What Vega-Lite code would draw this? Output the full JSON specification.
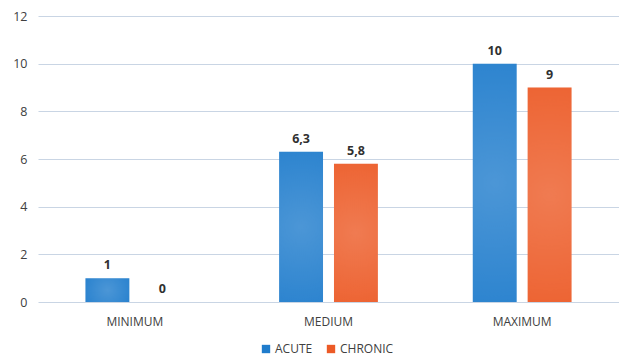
{
  "$schema": "https://vega.github.io/schema/vega-lite/v6.json",
  "width": 581,
  "height": 286,
  "autosize": {"type": "none"},
  "padding": {"left": 38, "top": 16, "right": 0, "bottom": 55},
  "background": "white",
  "config": {
    "view": {"stroke": null},
    "font": "Open Sans",
    "locale": {"number": {"decimal": ",", "thousands": ".", "grouping": [3], "currency": ["", ""]}}
  },
  "data": {
    "values": [
      {"level": "MINIMUM", "type": "ACUTE", "value": 1},
      {"level": "MINIMUM", "type": "CHRONIC", "value": 0},
      {"level": "MEDIUM", "type": "ACUTE", "value": 6.3},
      {"level": "MEDIUM", "type": "CHRONIC", "value": 5.8},
      {"level": "MAXIMUM", "type": "ACUTE", "value": 10},
      {"level": "MAXIMUM", "type": "CHRONIC", "value": 9}
    ]
  },
  "encoding": {
    "x": {
      "field": "level",
      "type": "nominal",
      "sort": ["MINIMUM", "MEDIUM", "MAXIMUM"],
      "scale": {"paddingInner": 0.49, "paddingOuter": 0.245},
      "axis": {
        "title": null,
        "labelAngle": 0,
        "ticks": false,
        "domain": false,
        "labelPadding": 14,
        "labelFontSize": 12,
        "labelColor": "#404040"
      }
    },
    "xOffset": {
      "field": "type",
      "type": "nominal",
      "scale": {"paddingInner": 0.2, "paddingOuter": 0}
    },
    "y": {
      "field": "value",
      "type": "quantitative",
      "scale": {"domain": [0, 12]},
      "axis": {
        "title": null,
        "values": [0, 2, 4, 6, 8, 10, 12],
        "labelOverlap": false,
        "ticks": false,
        "domain": false,
        "labelPadding": 11,
        "labelFontSize": 12.5,
        "labelColor": "#404040",
        "gridColor": "#c9d5e4",
        "gridWidth": 1.2
      }
    }
  },
  "layer": [
    {
      "mark": {"type": "bar"},
      "encoding": {
        "color": {
          "field": "type",
          "type": "nominal",
          "scale": {"domain": ["ACUTE", "CHRONIC"], "range": ["#1f7ccc", "#ec5a26"]},
          "legend": {
            "title": null,
            "orient": "none",
            "direction": "horizontal",
            "legendX": 222,
            "legendY": 327,
            "symbolType": "square",
            "symbolSize": 70,
            "symbolStrokeWidth": 0,
            "labelFontSize": 12,
            "labelColor": "#404040",
            "labelOffset": 3,
            "columnPadding": 12
          }
        }
      }
    },
    {
      "mark": {
        "type": "bar",
        "fill": {
          "gradient": "radial",
          "x1": 0.5, "y1": 0.5, "x2": 0.5, "y2": 0.5,
          "r1": 0, "r2": 0.75,
          "stops": [
            {"offset": 0, "color": "rgba(255,255,255,0.2)"},
            {"offset": 1, "color": "rgba(255,255,255,0)"}
          ]
        }
      },
      "encoding": {}
    },
    {
      "mark": {"type": "text", "baseline": "bottom", "dy": -6, "fontWeight": "bold", "fontSize": 12.5, "color": "#303030"},
      "encoding": {
        "text": {"field": "value", "type": "quantitative", "format": ".2~f"}
      }
    }
  ]
}
